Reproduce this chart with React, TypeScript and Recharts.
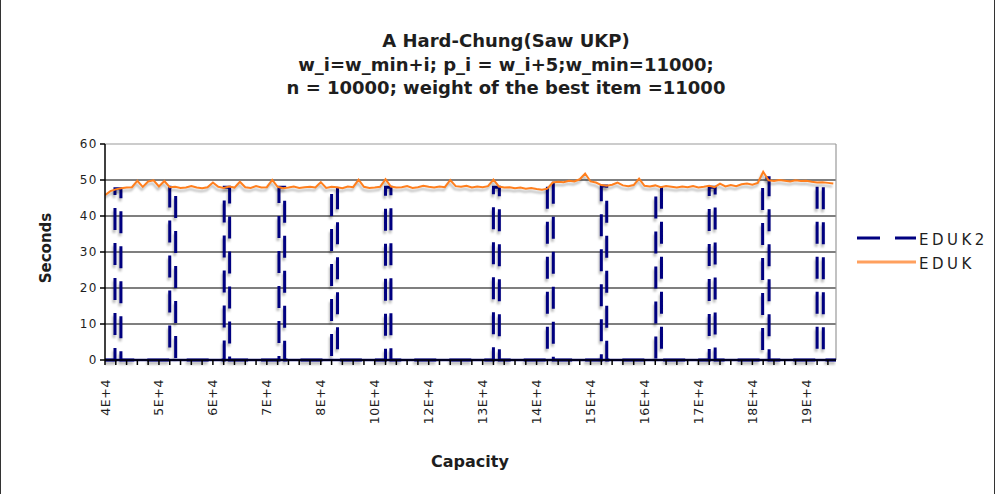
import { LineChart, Line, XAxis, YAxis, CartesianGrid, ReferenceLine } from "recharts";

// x labels every 20 capacity steps (0 .. 260)
const X_LABELS = [
  "4E+4", "5E+4", "6E+4", "7E+4", "8E+4", "10E+4", "12E+4",
  "13E+4", "14E+4", "15E+4", "16E+4", "17E+4", "18E+4", "19E+4",
];
const Y_TICKS = [0, 10, 20, 30, 40, 50, 60];

// EDUK: one value every 2 capacity steps
const EDUK = [
  45.8, 46.9, 47.4, 47.7, 47.9, 48.0, 49.8, 48.1, 49.6, 49.9,
  48.2, 49.7, 48.0, 48.1, 47.8, 47.9, 48.3, 47.9, 47.7, 48.0,
  49.3, 48.1, 47.8, 48.2, 47.9, 49.5, 48.0, 47.8, 48.3, 47.9,
  48.0, 50.0, 48.1, 47.7, 47.9, 48.2, 47.8, 48.0, 48.1, 47.9,
  49.4, 47.8, 48.1, 48.0, 47.7, 48.2, 48.0, 50.1, 48.1, 47.8,
  47.9, 48.1, 50.2, 48.2, 47.9, 48.0, 48.3, 47.8, 48.0, 48.4,
  48.1, 47.9, 48.2, 48.0, 50.0, 48.3, 48.1, 48.4, 47.9, 48.2,
  48.0, 48.3, 50.1, 48.2, 47.9, 48.0, 47.7, 47.9, 47.6, 47.8,
  47.5, 47.3, 47.6, 49.3, 49.5, 49.4, 49.8, 49.6, 50.2, 51.8,
  49.6, 49.3, 48.6, 48.4, 48.7, 49.3, 48.5, 48.3, 48.6, 50.4,
  48.4, 48.2, 48.5, 48.0, 48.3, 48.1, 47.9, 48.2, 48.0, 48.3,
  47.9, 48.1, 48.4, 48.0, 49.0, 48.2, 48.6, 48.3, 48.8, 49.0,
  48.7, 49.2, 52.3, 49.9, 49.7, 50.0, 49.8, 49.6, 49.9, 49.7,
  49.8, 49.5, 49.3, 49.4, 49.2, 49.0,
];

// EDUK2 is 0 except for short bursts
const SPIKE_RISE = [3.7, 24, 44.2, 64.5, 84, 104, 144, 164, 184, 204.2, 224, 243.8, 264];
const SPIKE_FALL = [5.9, 26.2, 46.2, 66.6, 86.2, 106, 146.2, 166.2, 186, 206.3, 226.2, 246.2, 266.3];
const SPIKE_TOP = [47.6, 48.0, 48.0, 48.0, 48.0, 48.0, 48.0, 49.8, 48.3, 47.8, 48.0, 50.6, 49.0];

const X_MAX = 271;

const edukData = EDUK.map((v, i) => ({ x: i * 2, y: v }));
const eduk2Data = [{ x: 0, y: 0 }];
SPIKE_RISE.forEach((r, i) => {
  eduk2Data.push({ x: r, y: 0 }, { x: r, y: SPIKE_TOP[i] });
  eduk2Data.push({ x: SPIKE_FALL[i], y: SPIKE_TOP[i] }, { x: SPIKE_FALL[i], y: 0 });
});
eduk2Data.push({ x: X_MAX, y: 0 });

const X_TICKS = Array.from({ length: 68 }, (_, k) => k * 4);

const FONT = "'DejaVu Sans', Verdana, sans-serif";
const INK = "#1e1e1e";

function XTick({ x, y, payload }: any) {
  const v = payload.value;
  if (v % 20 !== 0) return null;
  const label = X_LABELS[v / 20];
  const ty = y + 12;
  return (
    <text
      x={x}
      y={ty}
      transform={`rotate(-90, ${x}, ${ty})`}
      textAnchor="end"
      dominantBaseline="central"
      fontFamily={FONT}
      fontSize={12.5}
      letterSpacing={0.6}
      fill={INK}
    >
      {label}
    </text>
  );
}

export default function App() {
  return (
    <div
      style={{
        position: "absolute",
        left: 0,
        top: 0,
        width: 995,
        height: 494,
        background: "#fff",
        borderLeft: "1px solid #333",
        borderRight: "1px solid #333",
        boxSizing: "border-box",
      }}
    >
      <style>{`.shadowed .recharts-line-curve { filter: drop-shadow(-1px 3px 1px rgba(0,0,0,0.28)); }`}</style>
      <div style={{ position: "absolute", left: -1, top: 0 }}>
        <LineChart width={995} height={494} margin={{ top: 144, right: 159, left: 75, bottom: 74 }}>
          <CartesianGrid vertical={false} horizontalValues={[10, 20, 30, 40, 50]} stroke="#000" strokeWidth={1.2} />
          <ReferenceLine y={60} stroke="#999" strokeWidth={1.2} />
          <ReferenceLine x={X_MAX} stroke="#999" strokeWidth={1.2} />
          <XAxis
            type="number"
            dataKey="x"
            domain={[0, X_MAX]}
            ticks={X_TICKS}
            interval={0}
            height={60}
            tickSize={5}
            tick={<XTick />}
            stroke="#000"
            strokeWidth={1.5}
            allowDataOverflow
          />
          <YAxis
            type="number"
            domain={[0, 60]}
            ticks={Y_TICKS}
            width={30}
            tickSize={5}
            stroke="#000"
            strokeWidth={1.5}
            tick={{ fontFamily: FONT, fontSize: 12, fill: INK, letterSpacing: 1.5 }}
          />
          <Line
            className="shadowed"
            data={eduk2Data}
            dataKey="y"
            name="EDUK2"
            type="linear"
            stroke="#000080"
            strokeWidth={3}
            strokeDasharray="22 13"
            dot={false}
            isAnimationActive={false}
          />
          <ReferenceLine y={0} stroke="#000080" strokeWidth={2.5} />
          <Line
            className="shadowed"
            data={edukData}
            dataKey="y"
            name="EDUK"
            type="linear"
            stroke="#ff7f1e"
            strokeWidth={2}
            dot={false}
            isAnimationActive={false}
          />
        </LineChart>
      </div>
      <svg width={995} height={494} style={{ position: "absolute", left: -1, top: 0, pointerEvents: "none" }}>
        <g fontFamily={FONT} fontWeight="bold" fontSize={18} fill={INK} textAnchor="middle">
          <text x={506} y={47}>A Hard-Chung(Saw UKP)</text>
          <text x={506} y={71}>w_i=w_min+i; p_i = w_i+5;w_min=11000;</text>
          <text x={506} y={94}>n = 10000; weight of the best item =11000</text>
        </g>
        <text x={470} y={467} fontFamily={FONT} fontWeight="bold" fontSize={16} fill={INK} textAnchor="middle">
          Capacity
        </text>
        <text
          x={51}
          y={248}
          transform="rotate(-90, 51, 248)"
          fontFamily={FONT}
          fontWeight="bold"
          fontSize={15}
          fill={INK}
          textAnchor="middle"
        >
          Seconds
        </text>
        <line x1={857} y1={238} x2={916} y2={238} stroke="#000080" strokeWidth={3} strokeDasharray="23 15" />
        <text x={919} y={245} fontFamily={FONT} fontSize={15} letterSpacing={3.5} fill={INK}>EDUK2</text>
        <line x1={857} y1={262} x2={916} y2={262} stroke="#ffa05e" strokeWidth={3} />
        <text x={919} y={269} fontFamily={FONT} fontSize={15} letterSpacing={3.5} fill={INK}>EDUK</text>
      </svg>
    </div>
  );
}
